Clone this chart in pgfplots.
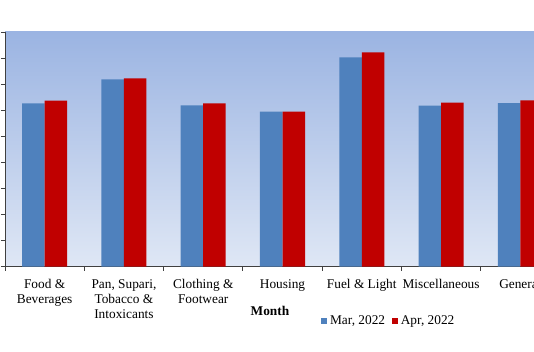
\documentclass[border=0pt]{standalone}
\usepackage{fontspec}
\setmainfont{Liberation Serif}
\usepackage{pgfplots}
\pgfplotsset{compat=1.18}
\definecolor{barblue}{RGB}{79,129,189}
\definecolor{barred}{RGB}{192,0,0}
\definecolor{bgtop}{RGB}{155,180,226}
\definecolor{bgbot}{RGB}{223,231,245}
\begin{document}
\begin{tikzpicture}
\begin{axis}[
  at={(3.75pt,64pt)}, anchor=south west,
  scale only axis, width=416.25pt, height=176pt,
  ybar=0pt, bar width=16.9pt,
  xmin=-0.5, xmax=6.5, ymin=0, ymax=180,
  axis x line*=bottom, axis y line*=left,
  axis line style={black!75, line width=0.6pt},
  axis background/.style={top color=bgtop, bottom color=bgbot},
  xtick={0,...,6},
  xticklabels={{Food \&\\Beverages},{Pan, Supari,\\Tobacco \&\\Intoxicants},{Clothing \&\\Footwear},Housing,{Fuel \& Light},Miscellaneous,General},
  major x tick style={draw=none},
  minor xtick={-0.5,0.5,...,6.5},
  minor tick length=3pt,
  minor x tick style={black!75, line width=0.6pt},
  ytick={0,20,...,180}, yticklabels={},
  major tick length=3pt,
  tick align=outside,
  y tick style={black!75, line width=0.6pt},
  x tick label style={font=\fontsize{10}{11.25}\selectfont, align=center, yshift=-3pt},
  legend style={at={(axis description cs:0.692,-0.231)}, anchor=center, draw=none, fill=none,
    legend columns=2, font=\fontsize{10}{12}\selectfont,
    /tikz/every even column/.append style={column sep=3pt}},
  legend image code/.code={\fill[#1] (0pt,-2.4pt) rectangle (4.8pt,2.4pt);},
]
\addplot[fill=barblue, draw=none] coordinates {(0,125.3) (1,143.7) (2,123.8) (3,118.9) (4,160.6) (5,123.5) (6,125.5)};
\addplot[fill=barred, draw=none] coordinates {(0,127.3) (1,144.5) (2,125.3) (3,118.9) (4,164.4) (5,125.8) (6,127.6)};
\legend{{Mar, 2022},{Apr, 2022}}
\end{axis}
\node[font=\fontsize{10}{12}\selectfont\bfseries] at (202.5pt,30.75pt) {Month};
\pgfresetboundingbox
\path[use as bounding box] (0,0) rectangle (400.5pt,264pt);
\end{tikzpicture}
\end{document}
